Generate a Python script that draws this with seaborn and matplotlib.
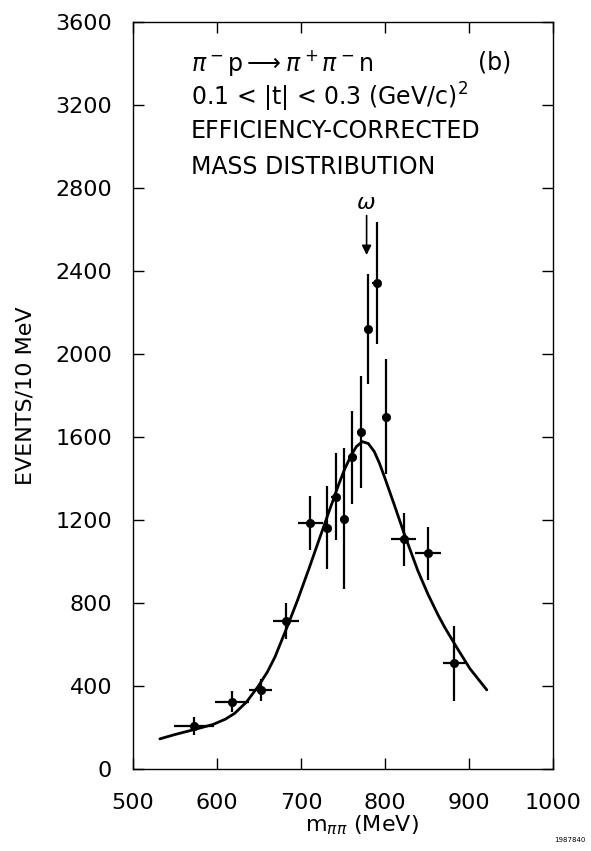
import seaborn as sns
import pandas as pd
import matplotlib.pyplot as plt
import numpy as np

mass = [573, 618, 652, 682, 711, 731, 741, 751, 761, 771, 780, 790, 801, 822, 851, 882]
events = [209, 324, 381, 713, 1184, 1163, 1312, 1205, 1502, 1623, 2119, 2341, 1698, 1107, 1040, 509]
events_err = [43, 50, 52, 86, 130, 200, 210, 340, 225, 270, 265, 295, 275, 128, 128, 180]
mass_err = [24, 20, 14, 15, 15, 5, 5, 5, 5, 5, 5, 5, 5, 15, 15, 13]

# fitted curve
fit_mass = [532, 550, 573, 595, 610, 621, 635, 649, 660, 669, 685, 696, 710, 720, 732, 745,
            752, 760, 766, 773, 780, 787, 793, 799, 811, 823, 839, 851, 863, 871, 885, 901, 921]
fit_events = [145, 166, 190, 214, 240, 268, 322, 398, 468, 540, 700, 815, 972, 1088, 1226, 1373,
              1446, 1514, 1554, 1577, 1568, 1530, 1476, 1410, 1272, 1130, 955, 842, 742, 682, 587, 483, 381]

xticks = [500, 600, 700, 800, 900, 1000]
yticks = [0, 400, 800, 1200, 1600, 2000, 2400, 2800, 3200, 3600]

sns.set_style("ticks")
plt.rcParams['font.family'] = ['DejaVu Sans']
plt.rcParams['mathtext.fontset'] = 'dejavusans'
plt.rcParams['text.color'] = 'black'
plt.rcParams['axes.labelcolor'] = 'black'
plt.rcParams['xtick.color'] = 'black'
plt.rcParams['ytick.color'] = 'black'

fig = plt.figure(figsize=(5.91, 8.51), dpi=100)
ax = fig.add_axes([0.225, 0.0964, 0.711, 0.878])

fit = pd.DataFrame({"m": fit_mass, "n": fit_events})
sns.lineplot(data=fit, x="m", y="n", color="black", lw=2.0, ax=ax)

ax.errorbar(mass, events, xerr=mass_err, yerr=events_err, fmt="none",
            ecolor="black", elinewidth=1.6, capsize=0)
pts = pd.DataFrame({"m": mass, "n": events})
sns.scatterplot(data=pts, x="m", y="n", color="black", s=36, edgecolor="black", ax=ax, zorder=5)

ax.set_xlim(500, 1000)
ax.set_ylim(0, 3600)
ax.set_xticks(xticks)
ax.set_yticks(yticks)
ax.tick_params(direction="in", length=8, width=1.0, top=True, right=True, labelsize=16)
ax.tick_params(axis="y", pad=15)
ax.tick_params(axis="x", pad=17)
for s in ax.spines.values():
    s.set_linewidth(1.0)
    s.set_color("black")

ax.set_xlabel(r"m$_{\pi\pi}$ (MeV)", fontsize=16)
ax.xaxis.set_label_coords(0.545, -0.06)
ax.set_ylabel("EVENTS/10 MeV", fontsize=16)
ax.yaxis.set_label_coords(-0.233, 0.5)

fs = 17
ax.text(569, 3402, r"$\pi^-$p$\longrightarrow\pi^+\pi^-$n", fontsize=fs, va="center", ha="left")
ax.text(930, 3402, "(b)", fontsize=fs, va="center", ha="center")
ax.text(569, 3234, r"0.1 < |t| < 0.3 (GeV/c)$^2$", fontsize=fs, va="center", ha="left")
ax.text(569, 3074, "EFFICIENCY-CORRECTED", fontsize=fs, va="center", ha="left")
ax.text(569, 2901, "MASS DISTRIBUTION", fontsize=fs, va="center", ha="left")

ax.text(777, 2728, r"$\omega$", fontsize=16, va="center", ha="center")
ax.annotate("", xy=(778, 2463), xytext=(778, 2680),
            arrowprops=dict(arrowstyle="-|>", lw=1.2, color="black", mutation_scale=14))

fig.text(0.965, 0.013, "1987840", fontsize=5, ha="center", va="center")

fig.savefig("out.png", dpi=100)
